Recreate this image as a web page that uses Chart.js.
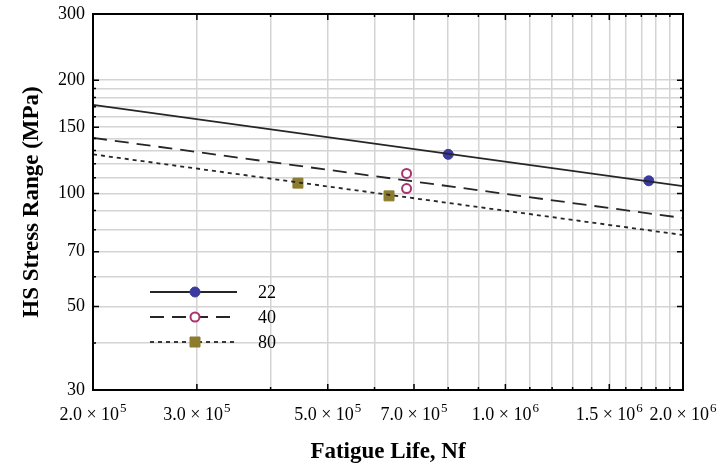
<!DOCTYPE html>
<html>
<head>
<meta charset="utf-8">
<script src="https://cdn.jsdelivr.net/npm/chart.js@4/dist/chart.umd.min.js"></script>
<style>
  html, body { margin: 0; padding: 0; background: #fff; }
  #wrap { width: 720px; height: 467px; }
</style>
</head>
<body>
<div id="wrap"><canvas id="myChart"></canvas></div>
<script>
// measured points (Nf, stress range)
const series = ['22', '40', '80'];
const nf22 = [8.0e5, 1.75e6];
const s22 = [127, 108];
const nf40 = [6.8e5, 6.8e5];
const s40 = [113, 103];
const nf80 = [4.45e5, 6.35e5];
const s80 = [106.5, 98.5];

// fitted lines, read at the two ends of the plot
const fitNf = [2e5, 2e6];
const fit22 = [172, 104.6];
const fit40 = [140.5, 86];
const fit80 = [127, 77.5];

// axis ticks: [mantissa, exponent] for the labelled x ticks
const xTicks = [2e5, 3e5, 4e5, 5e5, 6e5, 7e5, 8e5, 9e5, 1e6, 1.1e6, 1.2e6, 1.3e6, 1.4e6,
  1.5e6, 1.6e6, 1.7e6, 1.8e6, 1.9e6, 2e6];
const xLabels = {200000: ['2.0', '5'], 300000: ['3.0', '5'], 500000: ['5.0', '5'], 700000: ['7.0', '5'],
  1000000: ['1.0', '6'], 1500000: ['1.5', '6'], 2000000: ['2.0', '6']};
const yTicks = [30, 40, 50, 60, 70, 80, 90, 100, 110, 120, 130, 140, 150, 160, 170, 180, 190, 200, 300];
const yLabels = [30, 50, 70, 100, 150, 200, 300];

const pts = (xs, ys) => xs.map((x, i) => ({x: x, y: ys[i]}));

const lineColor = '#262626';
const styles = [
  {dash: [], color: '#3a3aa0', pointStyle: 'circle', fill: true, r: 5},
  {dash: [14, 8], color: '#a8336e', pointStyle: 'circle', fill: false, r: 4.5},
  {dash: [4, 4], color: '#8c7d2e', pointStyle: 'rect', fill: true, r: 5}
];

const fits = [fit22, fit40, fit80];
const meas = [[nf22, s22], [nf40, s40], [nf80, s80]];

const datasets = [];
fits.forEach((f, i) => {
  datasets.push({
    label: series[i] + ' fit',
    data: pts(fitNf, f),
    showLine: true,
    borderColor: lineColor,
    borderWidth: 1.8,
    borderDash: styles[i].dash,
    pointRadius: 0
  });
});
meas.forEach((m, i) => {
  const s = styles[i];
  datasets.push({
    label: series[i],
    data: pts(m[0], m[1]),
    showLine: false,
    pointStyle: s.pointStyle,
    // chart.js draws 'rect' with half-side radius/sqrt(2)
    pointRadius: s.pointStyle === 'rect' ? s.r * Math.SQRT2 : s.r,
    borderWidth: s.fill ? 1 : 2,
    borderColor: s.color,
    backgroundColor: s.fill ? s.color : '#ffffff'
  });
});

const serif = "'Liberation Serif', 'DejaVu Serif', serif";

const frameAndLegend = {
  id: 'frameAndLegend',
  afterDatasetsDraw(chart) {
    const ctx = chart.ctx;
    const a = chart.chartArea;
    const xs = chart.scales.x, ys = chart.scales.y;
    ctx.save();
    ctx.strokeStyle = '#000';
    ctx.lineWidth = 2;
    ctx.strokeRect(a.left, a.top, a.right - a.left, a.bottom - a.top);
    ctx.lineWidth = 1.5;
    ctx.beginPath();
    xTicks.forEach(v => {
      const px = xs.getPixelForValue(v);
      const len = xLabels[v] ? 6 : 3;
      ctx.moveTo(px, a.bottom); ctx.lineTo(px, a.bottom - len);
      ctx.moveTo(px, a.top); ctx.lineTo(px, a.top + len);
    });
    yTicks.forEach(v => {
      const py = ys.getPixelForValue(v);
      const len = yLabels.includes(v) ? 6 : 3;
      ctx.moveTo(a.left, py); ctx.lineTo(a.left + len, py);
      ctx.moveTo(a.right, py); ctx.lineTo(a.right - len, py);
    });
    ctx.stroke();

    // x tick labels with a real superscript exponent
    ctx.fillStyle = '#000';
    ctx.textBaseline = 'alphabetic';
    ctx.textAlign = 'left';
    xTicks.forEach(v => {
      const lab = xLabels[v];
      if (!lab) return;
      const base = lab[0] + ' \u00d7 10';
      ctx.font = '18px ' + serif;
      const w1 = ctx.measureText(base).width;
      ctx.font = '13px ' + serif;
      const w2 = ctx.measureText(lab[1]).width;
      const x0 = xs.getPixelForValue(v) - (w1 + w2 + 1) / 2;
      ctx.font = '18px ' + serif;
      ctx.fillText(base, x0, a.bottom + 30);
      ctx.font = '13px ' + serif;
      ctx.fillText(lab[1], x0 + w1 + 1, a.bottom + 22);
    });

    // legend inside the plot
    const lx0 = a.left + 57, lx1 = a.left + 144, mx = a.left + 102;
    series.forEach((name, i) => {
      const y = a.top + 278 + i * 25;
      const s = styles[i];
      const ds = chart.data.datasets[3 + i];
      ctx.strokeStyle = lineColor;
      ctx.lineWidth = 1.8;
      ctx.setLineDash(s.dash);
      ctx.beginPath();
      ctx.moveTo(lx0, y); ctx.lineTo(lx1, y);
      ctx.stroke();
      ctx.setLineDash([]);
      ctx.fillStyle = ds.backgroundColor;
      ctx.strokeStyle = ds.borderColor;
      ctx.lineWidth = ds.borderWidth;
      ctx.beginPath();
      if (s.pointStyle === 'rect') {
        ctx.rect(mx - s.r, y - s.r, 2 * s.r, 2 * s.r);
      } else {
        ctx.arc(mx, y, s.r, 0, Math.PI * 2);
      }
      ctx.fill();
      ctx.stroke();
      ctx.fillStyle = '#000';
      ctx.font = '18px ' + serif;
      ctx.textBaseline = 'middle';
      ctx.fillText(name, a.left + 165, y + 1);
    });
    ctx.restore();
  }
};

const ctx = document.getElementById('myChart').getContext('2d');
const chart = new Chart(ctx, {
  type: 'scatter',
  data: {datasets: datasets},
  plugins: [frameAndLegend],
  options: {
    responsive: true,
    maintainAspectRatio: false,
    animation: false,
    layout: {padding: {left: 0, top: 14, right: 37, bottom: 0}},
    plugins: {
      legend: {display: false},
      tooltip: {enabled: false}
    },
    scales: {
      x: {
        type: 'logarithmic',
        min: 2e5,
        max: 2e6,
        afterBuildTicks: (scale) => { scale.ticks = xTicks.map(v => ({value: v})); },
        afterFit: (scale) => { scale.height = 77; },
        grid: {color: '#d4d4d4', lineWidth: 1.5, drawTicks: false},
        border: {display: false},
        ticks: {display: false},
        title: {
          display: true,
          text: 'Fatigue Life, Nf',
          color: '#000',
          font: {family: serif, size: 23, weight: 'bold'},
          padding: {top: 0, bottom: 1}
        }
      },
      y: {
        type: 'logarithmic',
        min: 30,
        max: 300,
        afterBuildTicks: (scale) => { scale.ticks = yTicks.map(v => ({value: v})); },
        afterFit: (scale) => {
          scale.width = 93;
          scale.paddingTop = 0;
          scale.paddingBottom = 0;
        },
        grid: {color: '#d4d4d4', lineWidth: 1.5, drawTicks: false},
        border: {display: false},
        ticks: {
          autoSkip: false,
          padding: 8,
          color: '#000',
          font: {family: serif, size: 18},
          callback: (v) => yLabels.includes(v) ? String(v) : ''
        },
        title: {
          display: true,
          text: 'HS Stress Range (MPa)',
          color: '#000',
          font: {family: serif, size: 23, weight: 'bold'},
          padding: {top: 18, bottom: 0}
        }
      }
    }
  }
});
</script>
</body>
</html>
